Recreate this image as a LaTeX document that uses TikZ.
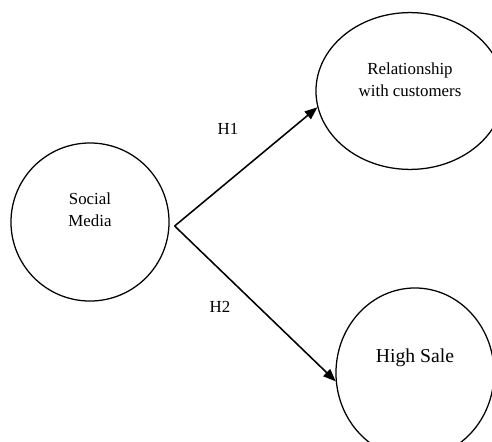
\documentclass[tikz,border=0pt]{standalone}
\usepackage{fontspec}
\setmainfont{Liberation Serif}
\usetikzlibrary{arrows.meta, shapes.geometric}

\gdef\Cfill{white}
\tikzset{
  construct/.style = {draw, line width=0.9pt, fill=\Cfill},
  link/.style = {-{Triangle[length=9pt, width=7pt]}, line width=1.1pt},
}

\begin{document}
\begin{tikzpicture}[x=0.025cm, y=-0.025cm, font=\fontsize{12}{15.6}\selectfont]
\useasboundingbox (0,0) rectangle (492,441);
% constructs
\node[construct, circle, minimum size=3.95cm] (SM) at (90,222) {};
\node[construct, ellipse, minimum width=4.7cm, minimum height=3.92cm] (RC) at (410,91) {};
\node[construct, ellipse, minimum width=3.95cm, minimum height=4.25cm] (HS) at (415,373) {};
\node[align=center] (SMtext) at (90,210) {Social\\Media};
\node[align=center] (RCtext) at (410,80) {Relationship\\with customers};
\node[font=\fontsize{14}{17}\selectfont] (HStext) at (415,358) {High Sale};
% hypotheses
\coordinate (fork) at ([shift={(5,4)}]SM.east);
\draw[link] (fork) -- (RC.190);
\draw[link] (fork) -- (HS.186);
\node (H1) at (228,129) {H1};
\node (H2) at (220,307) {H2};
\end{tikzpicture}
\end{document}
